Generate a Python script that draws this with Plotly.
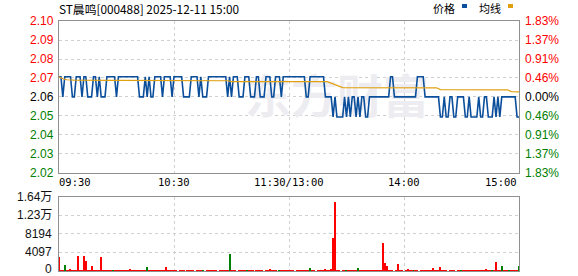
import plotly.graph_objects as go

# ---------------- data ----------------
title_text = "ST晨鸣[000488] 2025-12-11 15:00"
pre_close = 2.06

price_labels = ["2.10", "2.09", "2.08", "2.07", "2.06", "2.05", "2.04", "2.03", "2.02"]
pct_values = [1.83, 1.37, 0.91, 0.46, 0.00, -0.46, -0.91, -1.37, -1.83]
pct_labels = ["1.83%", "1.37%", "0.91%", "0.46%", "0.00%", "0.46%", "0.91%", "1.37%", "1.83%"]

vol_labels = ["1.64万", "1.23万", "8194", "4097", "0"]
vol_ticks = [16388, 12291, 8194, 4097, 0]

time_labels = ["09:30", "10:30", "11:30/13:00", "14:00", "15:00"]
time_pos = [0, 60, 120, 180, 240]

# minute prices 09:30-11:30 and 13:00-15:00 (241 points)
price_am1 = [2.07, 2.07, 2.06, 2.07, 2.07, 2.07, 2.07, 2.06, 2.06, 2.07,
             2.07, 2.07, 2.06, 2.07, 2.07, 2.06, 2.06, 2.06, 2.07, 2.07,
             2.06, 2.07, 2.06, 2.06, 2.06, 2.07, 2.07, 2.07, 2.07, 2.07,
             2.06, 2.07, 2.07, 2.07, 2.07, 2.07, 2.07, 2.07, 2.07, 2.07,
             2.07, 2.07, 2.06, 2.06, 2.06, 2.07, 2.06, 2.07, 2.06, 2.06,
             2.07, 2.07, 2.07, 2.07, 2.06, 2.07, 2.07, 2.07, 2.07, 2.06]
price_am2 = [2.07, 2.07, 2.07, 2.07, 2.07, 2.06, 2.06, 2.06, 2.06, 2.07,
             2.07, 2.07, 2.07, 2.06, 2.07, 2.06, 2.06, 2.06, 2.07, 2.07,
             2.07, 2.07, 2.07, 2.07, 2.07, 2.07, 2.07, 2.07, 2.06, 2.07,
             2.06, 2.07, 2.07, 2.07, 2.06, 2.06, 2.06, 2.07, 2.07, 2.07,
             2.06, 2.06, 2.06, 2.07, 2.07, 2.06, 2.06, 2.06, 2.07, 2.07,
             2.07, 2.06, 2.06, 2.07, 2.07, 2.07, 2.06, 2.07, 2.07, 2.07]
price_pm1 = [2.07, 2.07, 2.07, 2.07, 2.07, 2.07, 2.07, 2.07, 2.07, 2.06,
             2.06, 2.07, 2.07, 2.07, 2.07, 2.07, 2.07, 2.07, 2.07, 2.06,
             2.06, 2.06, 2.06, 2.05, 2.06, 2.05, 2.05, 2.05, 2.05, 2.06,
             2.05, 2.06, 2.05, 2.06, 2.06, 2.05, 2.06, 2.05, 2.06, 2.06,
             2.05, 2.05, 2.06, 2.06, 2.06, 2.06, 2.06, 2.06, 2.06, 2.06,
             2.06, 2.06, 2.06, 2.07, 2.07, 2.06, 2.06, 2.06, 2.06, 2.06]
price_pm2 = [2.06, 2.06, 2.06, 2.06, 2.06, 2.06, 2.06, 2.07, 2.07, 2.07,
             2.07, 2.06, 2.06, 2.06, 2.06, 2.06, 2.06, 2.06, 2.06, 2.05,
             2.05, 2.06, 2.05, 2.05, 2.06, 2.06, 2.05, 2.05, 2.06, 2.06,
             2.06, 2.06, 2.05, 2.05, 2.06, 2.05, 2.05, 2.05, 2.05, 2.06,
             2.05, 2.05, 2.06, 2.06, 2.05, 2.05, 2.05, 2.06, 2.05, 2.06,
             2.05, 2.06, 2.06, 2.06, 2.06, 2.06, 2.06, 2.06, 2.06, 2.05,
             2.05]
price = price_am1 + price_am2 + price_pm1 + price_pm2

# average price line (read at turning points)
avg_minutes = [0, 2, 4, 8, 30, 88, 90, 140, 148, 197, 199, 234, 236, 240]
avg_values = [2.0700, 2.0690, 2.0685, 2.0683, 2.0682, 2.0680, 2.0676, 2.0676,
              2.0646, 2.0645, 2.0636, 2.0635, 2.0626, 2.0625]

volume = [3100, 300, 200, 1480, 200, 150, 400, 300, 200, 100,
          3470, 300, 200, 3470, 2370, 300, 200, 1100, 300, 200,
          300, 200, 3100, 300, 200, 300, 200, 300, 300, 200,
          200, 300, 200, 300, 200, 300, 200, 400, 200, 300,
          200, 300, 200, 300, 200, 300, 1040, 200, 300, 200,
          200, 300, 200, 300, 200, 300, 890, 200, 300, 200,
          300, 200, 0, 200, 300, 200, 0, 200, 300, 200,
          200, 0, 300, 200, 300, 200, 0, 200, 300, 200,
          200, 300, 200, 0, 200, 300, 200, 300, 200, 3700,
          300, 200, 300, 0, 200, 300, 200, 300, 200, 200,
          300, 200, 0, 300, 200, 300, 200, 0, 200, 300,
          500, 300, 200, 300, 0, 200, 300, 200, 300, 200,
          300, 200, 300, 0, 200, 300, 200, 300, 200, 300,
          200, 820, 300, 200, 0, 200, 300, 200, 300, 400,
          300, 200, 500, 7300, 15280, 300, 200, 0, 300, 200,
          300, 200, 300, 200, 300, 200, 800, 300, 200, 300,
          200, 300, 200, 300, 200, 300, 200, 300, 200, 6200,
          1930, 1260, 300, 200, 300, 0, 200, 1550, 300, 200,
          0, 200, 600, 300, 200, 300, 200, 300, 0, 200,
          300, 200, 300, 200, 300, 800, 300, 200, 300, 1000,
          300, 200, 300, 0, 200, 300, 200, 0, 200, 300,
          200, 300, 200, 300, 200, 300, 200, 300, 200, 300,
          200, 300, 200, 600, 300, 200, 300, 200, 2150, 300,
          200, 1260, 300, 200, 300, 200, 300, 200, 300, 200,
          1260]
green_minutes = [3, 28, 46, 75, 89, 98, 115, 131, 150, 156, 185, 210, 226, 231, 235, 240]

minutes = list(range(len(price)))

# ---------------- style ----------------
BLUE = "#0b4f9c"
ORANGE = "#e0a010"
RED = "#ff0000"
GREEN = "#008000"
GRID = "#d0d0d0"
FRAME = "#909090"

levels = [pre_close * (1 + p / 100) for p in pct_values]
bar_colors = [GREEN if m in green_minutes else RED for m in minutes]

fig = go.Figure()

# faint watermark behind the lines
fig.add_trace(go.Scatter(x=[145], y=[2.0575], mode="text", text=["东方财富"],
                         textfont=dict(family="Noto Sans CJK SC", size=46, color="#ededf1", weight="bold"),
                         hoverinfo="skip", showlegend=False, xaxis="x", yaxis="y"))

fig.add_trace(go.Scatter(x=minutes, y=price, mode="lines",
                         line=dict(color=BLUE, width=1.6), showlegend=False,
                         xaxis="x", yaxis="y"))
fig.add_trace(go.Scatter(x=avg_minutes, y=avg_values, mode="lines",
                         line=dict(color=ORANGE, width=1.2), showlegend=False,
                         xaxis="x", yaxis="y"))
fig.add_trace(go.Bar(x=minutes, y=volume, marker=dict(color=bar_colors, line=dict(width=0)),
                     width=0.55, showlegend=False, xaxis="x2", yaxis="y2"))

main_dom = [0.393, 1.0]
vol_dom = [0.0, 0.297]

axis_common = dict(showgrid=True, gridcolor=GRID, griddash="3px,3px", gridwidth=1,
                   showline=True, mirror=True, linecolor=FRAME, linewidth=1,
                   zeroline=False, showticklabels=False, ticks="")

fig.update_layout(
    width=578, height=276,
    margin=dict(l=59, r=59, t=21, b=5),
    paper_bgcolor="white", plot_bgcolor="white",
    xaxis=dict(domain=[0, 1], range=[0, 240], tickvals=[60, 120, 180], anchor="y", **axis_common),
    yaxis=dict(domain=main_dom, range=[levels[-1], levels[0]], tickvals=levels, anchor="x", **axis_common),
    xaxis2=dict(domain=[0, 1], range=[0, 240], tickvals=[60, 120, 180], anchor="y2", **axis_common),
    yaxis2=dict(domain=vol_dom, range=[0, vol_ticks[0]], tickvals=vol_ticks, anchor="x2", **axis_common),
    bargap=0,
)

ann = []
num_font = "Liberation Sans, Arial, sans-serif"
for lvl, lab, pct, pl in zip(levels, price_labels, pct_values, pct_labels):
    col = RED if pct > 0 else (GREEN if pct < 0 else "#000000")
    ann.append(dict(xref="paper", yref="y", x=0, y=lvl, text=lab, showarrow=False,
                    xanchor="right", yanchor="middle", xshift=-3,
                    font=dict(family=num_font, size=12, color=col)))
    ann.append(dict(xref="paper", yref="y", x=1, y=lvl, text=pl, showarrow=False,
                    xanchor="left", yanchor="middle", xshift=4,
                    font=dict(family=num_font, size=12, color=col)))

for v, lab in zip(vol_ticks, vol_labels):
    ann.append(dict(xref="paper", yref="y2", x=0, y=v, text=lab, showarrow=False,
                    xanchor="right", yanchor="middle", xshift=-5, yshift=(2 if v == 0 else 0),
                    font=dict(family="Liberation Sans, Noto Sans CJK SC", size=12, color="#111111")))

mono = "DejaVu Sans Mono, Noto Sans CJK SC, monospace"
for i, (t, lab) in enumerate(zip(time_pos, time_labels)):
    xa = "left" if i == 0 else ("right" if i == len(time_pos) - 1 else "center")
    ann.append(dict(xref="x", yref="paper", x=t, y=(271 - 181.5) / 250, text=lab, showarrow=False,
                    xanchor=xa, yanchor="middle", xshift=(-2 if i == 0 else 0),
                    font=dict(family=mono, size=10.5, color="#000000")))

ann.append(dict(xref="paper", yref="paper", x=0, y=(271 - 8.5) / 250, text=title_text, showarrow=False,
                xanchor="left", yanchor="middle", xshift=-2,
                font=dict(family="Noto Sans CJK SC", size=11.8, color="#000000")))

ann.append(dict(xref="paper", yref="paper", x=(431 - 59) / 460, y=(271 - 8.5) / 250, text="价格", showarrow=False,
                xanchor="left", yanchor="middle", font=dict(family="Noto Sans CJK SC", size=11, color="#000000")))
ann.append(dict(xref="paper", yref="paper", x=(477 - 59) / 460, y=(271 - 8.5) / 250, text="均线", showarrow=False,
                xanchor="left", yanchor="middle", font=dict(family="Noto Sans CJK SC", size=11, color="#000000")))
fig.update_layout(annotations=ann)

shapes = [
    dict(type="rect", xref="paper", yref="paper",
         x0=(462 - 59) / 460, x1=(467 - 59) / 460, y0=(271 - 8) / 250, y1=(271 - 4) / 250,
         fillcolor=BLUE, line=dict(width=0)),
    dict(type="rect", xref="paper", yref="paper",
         x0=(508 - 59) / 460, x1=(513 - 59) / 460, y0=(271 - 8) / 250, y1=(271 - 4) / 250,
         fillcolor=ORANGE, line=dict(width=0)),
]
fig.update_layout(shapes=shapes)

fig.write_html("out.html")
